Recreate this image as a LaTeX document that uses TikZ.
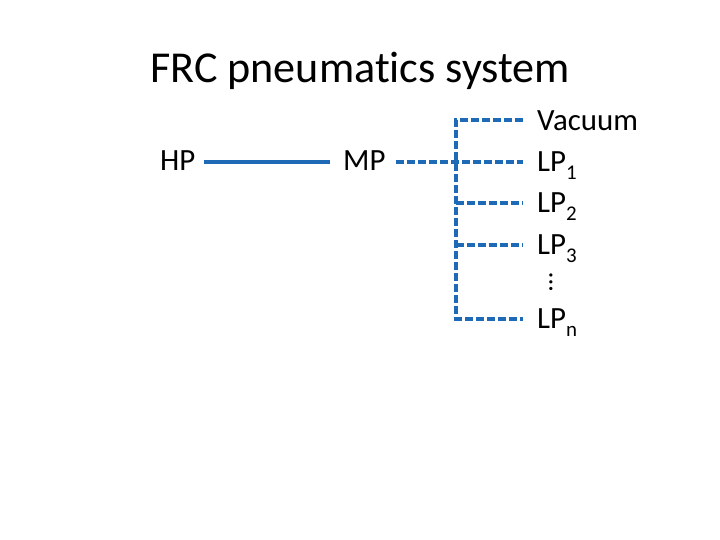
\documentclass[tikz,border=0pt]{standalone}
\usepackage{fontspec}
\setmainfont{Carlito}[Ligatures=NoCommon]
\definecolor{pipeblue}{RGB}{31,106,182}
\newcommand\subs[1]{\raisebox{-8bp}{\fontsize{21}{24}\selectfont #1}}
\begin{document}
\begin{tikzpicture}[x=1bp,y=-1bp,
  lbl/.style={inner sep=0pt, anchor=base west, font=\fontsize{31}{36}\selectfont},
  pipe/.style={draw=pipeblue, line width=4bp},
  dpipe/.style={pipe, dash pattern=on 8bp off 3bp}]
\useasboundingbox[fill=white] (0,0) rectangle (720,540);
\node[inner sep=0pt, anchor=base west, font=\fontsize{44.3}{52}\selectfont] (title) at (150,83) {FRC pneumatics system};
\node[lbl] (HP) at (160,171) {HP};
\node[lbl] (MP) at (343,171) {MP};
\coordinate (top) at (455.5,120.5);
\coordinate (j1) at (455.5,161.7);
\coordinate (j2) at (455.5,203);
\coordinate (j3) at (455.5,245);
\coordinate (bot) at (455.5,318.5);
\node[lbl] (vac) at (537,130.2) {Vacuum};
\node[lbl] (LP1) at (537,171.4) {LP\subs{1}};
\node[lbl] (LP2) at (537,212.7) {LP\subs{2}};
\node[lbl] (LP3) at (537,254.7) {LP\subs{3}};
\node[lbl] (LPn) at (537,328.2) {LP\subs{n}};
\node[inner sep=0pt, rotate=90, font=\fontsize{27}{30}\selectfont] (dots) at (551,282) {…};
\draw[pipe] ([xshift=8bp]HP.east |- j1) -- ([xshift=-13bp]MP.west |- j1);
\draw[dpipe] ([xshift=10bp]MP.east |- j1) -- ([xshift=-14bp]LP1.west |- j1);
\draw[dpipe] ([xshift=-14bp]vac.west |- top) -- (top) -- (bot) -- ([xshift=-14bp]LPn.west |- bot);
\draw[dpipe] (j2) -- ([xshift=-14bp]LP2.west |- j2);
\draw[dpipe] (j3) -- ([xshift=-14bp]LP3.west |- j3);
\end{tikzpicture}
\end{document}
